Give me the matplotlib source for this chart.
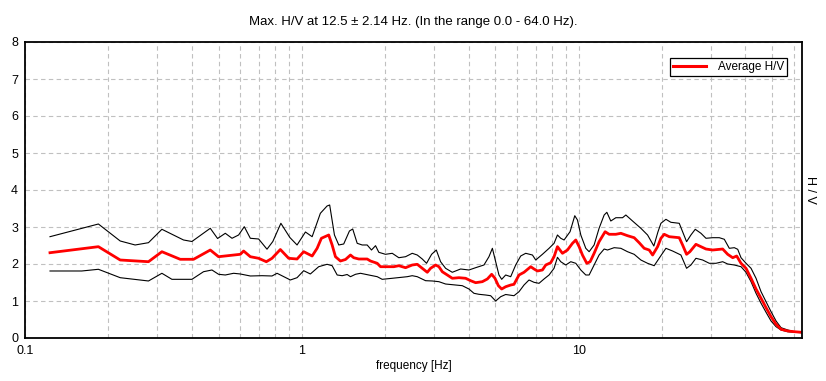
import matplotlib
matplotlib.use("Agg")
import matplotlib.pyplot as plt
from matplotlib.ticker import FixedLocator, LogLocator, NullFormatter


# Average H/V curve (red)
FREQ_AVG = [
	0.1231, 0.1841, 0.2207, 0.2792, 0.3122, 0.3636, 0.4062, 0.4668, 0.5001, 0.5993,
	0.6160, 0.6513, 0.6979, 0.7439, 0.7800, 0.8359, 0.8960, 0.9607, 1.015, 1.089,
	1.135, 1.176, 1.250, 1.286, 1.322, 1.378, 1.437, 1.498, 1.539, 1.605,
	1.721, 1.769, 1.871, 1.923, 2.148, 2.239, 2.368, 2.503, 2.610, 2.721,
	2.837, 2.916, 3.040, 3.125, 3.215, 3.351, 3.493, 3.690, 3.902, 4.068,
	4.241, 4.484, 4.675, 4.846, 4.981, 5.124, 5.267, 5.445, 5.677, 5.834,
	6.083, 6.342, 6.706, 6.893, 7.090, 7.391, 7.598, 7.920, 8.142, 8.375,
	8.730, 9.101, 9.488, 9.754, 10.03, 10.31, 10.69, 10.99, 11.36, 11.84,
	12.45, 12.87, 13.61, 14.19, 15.00, 15.85, 16.52, 17.23, 17.96, 18.48,
	19.26, 19.80, 20.35, 21.22, 23.06, 23.71, 24.51, 25.19, 26.49, 27.62,
	28.80, 30.44, 33.09, 34.50, 35.97, 37.18, 38.54, 40.18, 41.89, 43.67,
	45.53, 47.46, 49.48, 51.59, 53.78, 56.86, 60.07, 64.03,
]
HV_AVG = [
	2.305, 2.468, 2.108, 2.062, 2.332, 2.127, 2.127, 2.378, 2.197, 2.262,
	2.351, 2.197, 2.154, 2.062, 2.154, 2.392, 2.154, 2.135, 2.332, 2.216,
	2.424, 2.695, 2.784, 2.514, 2.197, 2.081, 2.122, 2.243, 2.170, 2.135,
	2.135, 2.081, 2.019, 1.927, 1.927, 1.954, 1.900, 1.973, 1.992, 1.884,
	1.776, 1.884, 1.973, 1.927, 1.790, 1.703, 1.614, 1.630, 1.614, 1.549,
	1.495, 1.522, 1.595, 1.722, 1.614, 1.414, 1.324, 1.386, 1.432, 1.451,
	1.703, 1.776, 1.927, 1.865, 1.811, 1.838, 1.973, 2.035, 2.197, 2.468,
	2.289, 2.378, 2.559, 2.649, 2.468, 2.243, 2.019, 2.062, 2.289, 2.603,
	2.873, 2.803, 2.803, 2.830, 2.765, 2.711, 2.576, 2.424, 2.378, 2.243,
	2.468, 2.695, 2.803, 2.738, 2.711, 2.514, 2.262, 2.332, 2.532, 2.468,
	2.405, 2.378, 2.405, 2.262, 2.170, 2.216, 2.019, 1.884, 1.614, 1.324,
	1.073, 0.819, 0.576, 0.370, 0.235, 0.189, 0.170, 0.154,
]

# Upper standard deviation curve (black)
FREQ_HI = [
	0.1231, 0.1841, 0.2207, 0.2499, 0.2792, 0.3122, 0.3737, 0.4007, 0.4668, 0.4960,
	0.5289, 0.5593, 0.5908, 0.6194, 0.6513, 0.6979, 0.7482, 0.7853, 0.8397, 0.9049,
	0.9607, 1.030, 1.089, 1.166, 1.233, 1.260, 1.311, 1.359, 1.416, 1.485,
	1.526, 1.584, 1.651, 1.721, 1.784, 1.845, 1.896, 2.004, 2.120, 2.239,
	2.368, 2.503, 2.610, 2.721, 2.820, 2.941, 3.058, 3.169, 3.304, 3.493,
	3.743, 4.012, 4.241, 4.545, 4.738, 4.875, 5.010, 5.149, 5.267, 5.445,
	5.677, 5.918, 6.169, 6.432, 6.802, 6.991, 7.391, 7.810, 8.142, 8.375,
	8.608, 8.849, 9.301, 9.672, 9.892, 10.17, 10.60, 10.90, 11.36, 11.84,
	12.35, 12.63, 13.05, 13.61, 14.39, 14.79, 15.64, 16.76, 17.72, 18.67,
	19.31, 19.80, 20.64, 21.51, 23.06, 23.71, 24.51, 25.41, 26.34, 27.62,
	28.80, 30.44, 32.17, 33.54, 34.97, 36.45, 37.50, 38.54, 40.18, 41.89,
	43.67, 45.53, 47.46, 49.48, 51.59, 53.78, 56.86, 60.07, 64.03,
]
HV_HI = [
	2.738, 3.081, 2.622, 2.514, 2.576, 2.938, 2.649, 2.608, 2.965, 2.689,
	2.830, 2.695, 2.784, 3.008, 2.695, 2.676, 2.400, 2.608, 3.100, 2.716,
	2.514, 2.865, 2.738, 3.370, 3.568, 3.595, 2.784, 2.514, 2.541, 2.892,
	2.946, 2.559, 2.514, 2.514, 2.378, 2.495, 2.316, 2.262, 2.289, 2.170,
	2.197, 2.289, 2.243, 2.135, 2.019, 2.262, 2.378, 2.062, 1.884, 1.776,
	1.865, 1.838, 1.900, 1.973, 2.197, 2.424, 2.062, 1.703, 1.586, 1.703,
	1.657, 1.973, 2.216, 2.289, 2.243, 2.108, 2.262, 2.424, 2.559, 2.784,
	2.695, 2.649, 2.873, 3.305, 3.189, 2.784, 2.424, 2.332, 2.514, 2.965,
	3.324, 3.397, 3.162, 3.251, 3.251, 3.324, 3.162, 2.965, 2.784, 2.486,
	2.865, 3.100, 3.208, 3.127, 3.100, 2.873, 2.603, 2.784, 2.938, 2.830,
	2.695, 2.711, 2.711, 2.668, 2.424, 2.441, 2.397, 2.170, 2.019, 1.884,
	1.614, 1.251, 0.981, 0.711, 0.459, 0.278, 0.216, 0.170, 0.154,
]

# Lower standard deviation curve (black)
FREQ_LO = [
	0.1231, 0.1603, 0.1841, 0.2207, 0.2792, 0.3122, 0.3393, 0.4007, 0.4414, 0.4734,
	0.5001, 0.5289, 0.5668, 0.5993, 0.6513, 0.7179, 0.7800, 0.8135, 0.9087, 0.9607,
	1.015, 1.073, 1.150, 1.233, 1.286, 1.341, 1.398, 1.457, 1.498, 1.562,
	1.628, 1.744, 1.871, 1.950, 2.120, 2.402, 2.503, 2.610, 2.797, 2.958,
	3.125, 3.304, 3.592, 3.796, 4.012, 4.182, 4.360, 4.609, 4.806, 5.010,
	5.223, 5.445, 5.834, 6.083, 6.342, 6.611, 6.893, 7.185, 7.491, 7.810,
	8.142, 8.375, 8.608, 8.974, 9.357, 9.754, 10.17, 10.60, 10.90, 11.36,
	11.84, 12.35, 12.70, 13.42, 14.19, 15.00, 15.85, 16.76, 17.72, 18.72,
	19.68, 20.64, 21.82, 23.38, 24.51, 25.41, 26.49, 28.02, 29.60, 31.30,
	33.09, 34.50, 36.45, 38.54, 40.18, 41.89, 43.67, 45.53, 47.46, 49.48,
	51.59, 53.78, 56.86, 60.07, 64.03,
]
HV_LO = [
	1.811, 1.811, 1.857, 1.630, 1.541, 1.749, 1.586, 1.586, 1.792, 1.838,
	1.722, 1.703, 1.749, 1.730, 1.676, 1.684, 1.676, 1.749, 1.568, 1.630,
	1.819, 1.730, 1.927, 1.992, 1.954, 1.703, 1.684, 1.716, 1.657, 1.722,
	1.749, 1.703, 1.657, 1.586, 1.614, 1.657, 1.684, 1.657, 1.549, 1.541,
	1.522, 1.459, 1.432, 1.414, 1.324, 1.208, 1.181, 1.162, 1.143, 1.000,
	1.116, 1.176, 1.143, 1.251, 1.432, 1.568, 1.505, 1.478, 1.595, 1.703,
	1.884, 2.181, 2.062, 1.973, 2.062, 2.019, 1.838, 1.703, 1.703, 1.973,
	2.243, 2.405, 2.378, 2.441, 2.424, 2.332, 2.262, 2.108, 2.019, 1.954,
	2.197, 2.424, 2.351, 2.243, 1.884, 1.973, 2.154, 2.108, 2.019, 2.019,
	2.062, 2.000, 1.973, 1.927, 1.776, 1.522, 1.208, 0.938, 0.695, 0.459,
	0.305, 0.216, 0.170, 0.154, 0.143,
]

TITLE = "Max. H/V at 12.5 \u00b1 2.14 Hz. (In the range 0.0 - 64.0 Hz)."
X_LABEL = "frequency [Hz]"
Y_LABEL = "H / V"
LEGEND_LABEL = "Average H/V"
X_TICKS = [0.1, 1, 10]
X_TICK_LABELS = ["0.1", "1", "10"]
Y_TICKS = [0, 1, 2, 3, 4, 5, 6, 7, 8]
X_RANGE = (0.1, 64.0)
Y_RANGE = (0, 8)


def plot_hv(output_path):
	plt.rcParams["font.family"] = ["Liberation Sans", "DejaVu Sans"]
	plt.rcParams["font.size"] = 8.5

	fig = plt.figure(figsize=(8.26, 3.81), dpi=100)
	ax = fig.add_axes([25 / 826, 43 / 381, 777 / 826, 296 / 381])

	# std curves first, the average on top
	ax.plot(FREQ_HI, HV_HI, color="black", lw=0.8)
	ax.plot(FREQ_LO, HV_LO, color="black", lw=0.8)
	ax.plot(FREQ_AVG, HV_AVG, color="#ff0000", lw=2.0, label=LEGEND_LABEL)

	ax.set_xscale("log")
	ax.set_xlim(*X_RANGE)
	ax.set_ylim(*Y_RANGE)

	ax.xaxis.set_major_locator(FixedLocator(X_TICKS))
	ax.set_xticklabels(X_TICK_LABELS)
	ax.xaxis.set_minor_locator(LogLocator(base=10, subs=[2, 3, 4, 5, 6, 7, 8, 9]))
	ax.xaxis.set_minor_formatter(NullFormatter())
	ax.set_yticks(Y_TICKS)
	ax.tick_params(which="both", length=0, labelsize=9)
	ax.tick_params(axis="x", pad=5)
	ax.tick_params(axis="y", pad=5)

	ax.grid(True, which="both", color="#c0c0c0", ls=(0, (4, 3)), lw=0.8)
	ax.set_axisbelow(True)
	for sp in ax.spines.values():
		sp.set_color("black")
		sp.set_linewidth(1.3)

	ax.set_xlabel(X_LABEL, labelpad=2)
	ax.yaxis.set_label_position("right")
	ax.set_ylabel(Y_LABEL, rotation=270, labelpad=10, fontsize=9)

	fig.text(0.5 * (25 + 802) / 826, 1 - 22 / 381, TITLE, ha="center", va="center",
		fontsize=9.5)

	leg = ax.legend(loc="upper right", bbox_to_anchor=(0.9807, 0.9459), borderaxespad=0,
		fancybox=False, shadow=False, framealpha=1, edgecolor="black",
		handlelength=2.8, borderpad=0.25, handletextpad=1.0)
	leg.get_frame().set_linewidth(0.9)
	for line in leg.get_lines():
		line.set_linewidth(2.2)

	fig.savefig(output_path, dpi=100)


def main():
	plot_hv("out.png")


if __name__ == "__main__":
	main()
